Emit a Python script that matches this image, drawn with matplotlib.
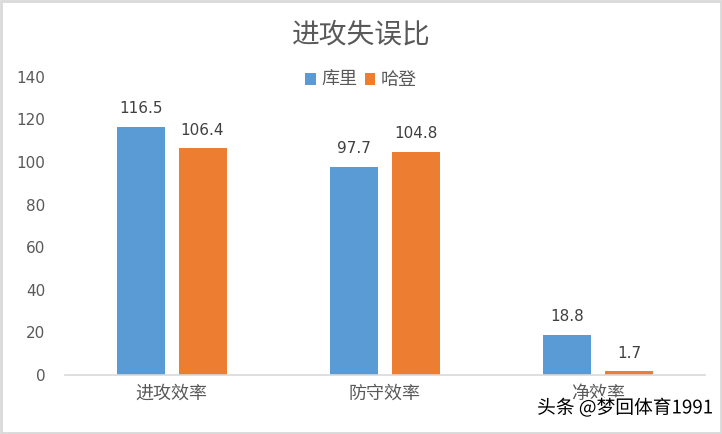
import matplotlib
matplotlib.use("Agg")
import matplotlib.pyplot as plt
import matplotlib.patheffects as pe
from matplotlib.patches import Rectangle
import numpy as np

plt.rcParams['font.family'] = ['Noto Sans CJK SC', 'DejaVu Sans']

categories = ["进攻效率", "防守效率", "净效率"]
series_names = ["库里", "哈登"]
curry = [116.5, 97.7, 18.8]
harden = [106.4, 104.8, 1.7]
colors = ["#5B9BD5", "#ED7D31"]
yticks = [0, 20, 40, 60, 80, 100, 120, 140]

fig = plt.figure(figsize=(7.22, 4.34), dpi=100)
ax = fig.add_axes([0.09, 0.136, 0.886, 0.687])

x = np.arange(len(categories))
w = 0.225
off = 0.145
for vals, c, name, o in [(curry, colors[0], series_names[0], -off), (harden, colors[1], series_names[1], off)]:
    bars = ax.bar(x + o, vals, width=w, color=c, label=name)
    for b, v in zip(bars, vals):
        ax.text(b.get_x() + b.get_width() / 2, v + 5, f"{v}", ha="center", va="bottom",
                fontsize=11, color="#404040", family=['DejaVu Sans'])

ax.set_xlim(-0.5, 2.5)
ax.set_ylim(0, 140)
ax.set_yticks(yticks)
ax.set_yticklabels([str(t) for t in yticks], fontsize=11, color="#595959", family=['DejaVu Sans'])
ax.set_xticks(x)
ax.set_xticklabels(categories, fontsize=13, color="#595959")
ax.tick_params(axis='both', length=0)
ax.tick_params(axis='y', pad=14)
ax.tick_params(axis='x', pad=7)
for s in ["top", "right", "left"]:
    ax.spines[s].set_visible(False)
ax.spines["bottom"].set_color("#D9D9D9")
ax.spines["bottom"].set_linewidth(1.2)

fig.text(0.5, 0.92, "进攻失误比", ha="center", va="center", fontsize=20, color="#595959")
leg = fig.legend(loc="center", bbox_to_anchor=(0.5, 0.815), ncol=2, frameon=False,
                 fontsize=13, handlelength=0.6, handleheight=0.6, handletextpad=0.3,
                 columnspacing=0.4, labelcolor="#595959")

fig.text(0.988, 0.06, "头条 @梦回体育1991", ha="right", va="center", fontsize=13.5, color="black",
         path_effects=[pe.withStroke(linewidth=2.5, foreground="white")])

fig.patches.append(Rectangle((0.002, 0.003), 0.996, 0.994, transform=fig.transFigure,
                             fill=False, edgecolor="#D9D9D9", linewidth=2))

fig.savefig("out.png", dpi=100)
